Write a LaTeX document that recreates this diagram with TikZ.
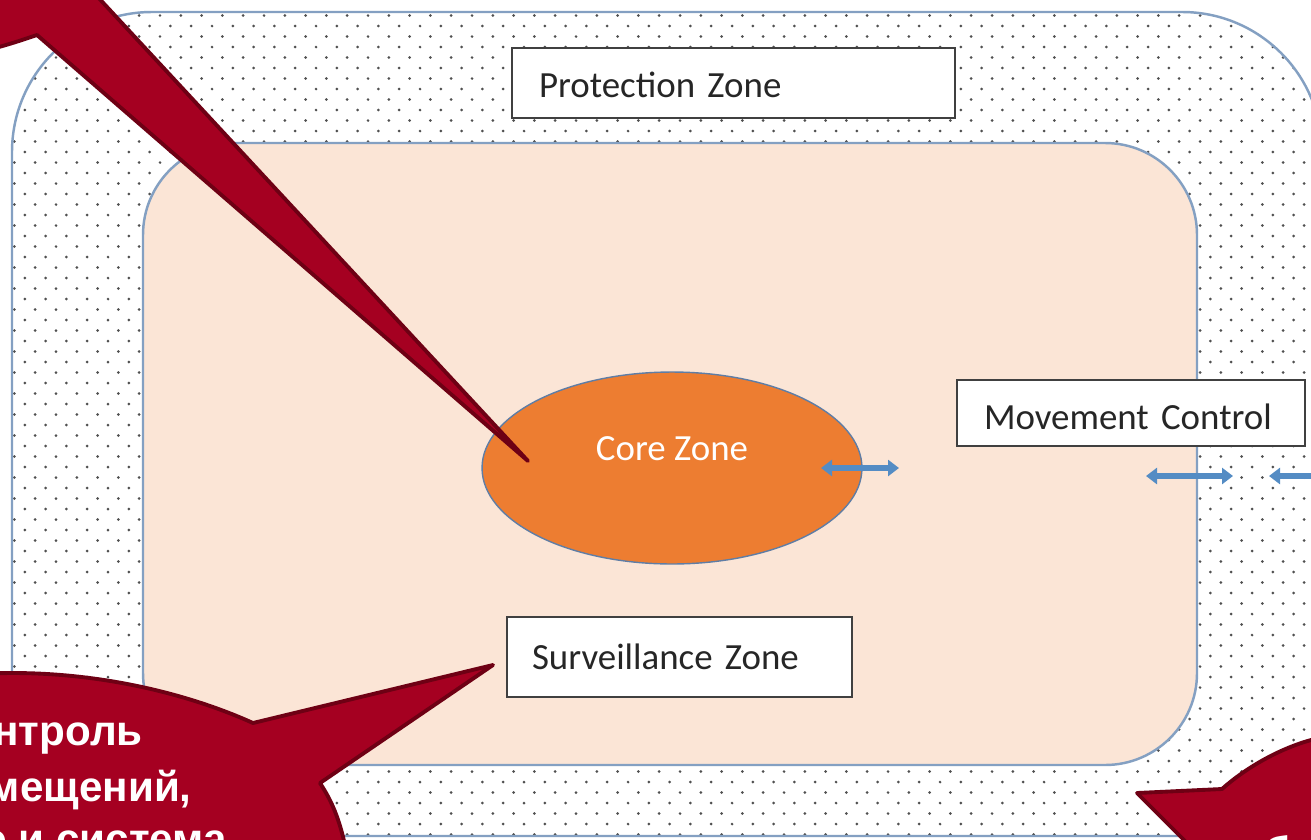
\documentclass[tikz,border=0pt]{standalone}
\usepackage{fontspec}
\setmainfont{Carlito}
\newfontfamily\calloutfont{Liberation Sans}
\usetikzlibrary{shapes.geometric,arrows.meta}
\definecolor{zoneline}{RGB}{132,160,194}
\definecolor{peach}{RGB}{251,229,214}
\definecolor{coreorange}{RGB}{237,125,49}
\definecolor{coreline}{RGB}{95,125,165}
\definecolor{arrowblue}{RGB}{84,140,196}
\definecolor{boxline}{RGB}{64,64,64}
\definecolor{boxtext}{RGB}{38,38,38}
\definecolor{calloutred}{RGB}{165,0,33}
\definecolor{calloutline}{RGB}{110,0,20}
\definecolor{dotgray}{RGB}{80,80,80}
\begin{document}
\begin{tikzpicture}[x=0.02cm,y=-0.02cm,
  zoneedge/.style={draw=zoneline,line width=1.4pt},
  zonebox/.style={draw=boxline,fill=white,line width=1.1pt,inner xsep=0.54cm,inner ysep=0pt,
    align=left,font=\fontsize{21}{25}\selectfont,text=boxtext,anchor=center},
  coreshape/.style={ellipse,fill=coreorange,draw=coreline,line width=0.8pt,
    minimum width=7.6cm,minimum height=3.84cm,inner sep=0pt},
  twoway/.style={{Triangle[length=0.22cm,width=0.32cm]}-{Triangle[length=0.22cm,width=0.32cm]},
    draw=arrowblue,line width=3.6pt},
  callout/.style={fill=calloutred,draw=calloutline,line width=2.2pt,line join=round},
  callouttext/.style={text=white,font=\calloutfont\bfseries\fontsize{24}{28}\selectfont,inner sep=0pt}
]
\useasboundingbox (0,0) rectangle (1311,839);
\fill[white] (0,0) rectangle (1311,839);

% dotted protection band
\begin{scope}
  \clip[rounded corners=2.8cm] (12,12) rectangle (1322,836);
  \foreach \j in {0,...,80} {
    \fill[dotgray] \foreach \i in {0,...,64} {
      ({mod(\j,2)*10.4+\i*20.8+4},{5+\j*10.5}) circle (0.85pt) };
  }
\end{scope}
\draw[zoneedge,rounded corners=2.8cm] (12,12) rectangle (1322,836);

% surveillance area
\draw[zoneedge,fill=peach,rounded corners=1.84cm] (143,143) rectangle (1197,765);

% labelled boxes
\node[zonebox,text width=7.78cm,text height=17pt,text depth=0pt,minimum height=1.4cm] (protect) at (733.5,83) {Protection Zone};
\node[zonebox,text width=5.88cm,text height=19pt,text depth=0pt,minimum height=1.32cm] (move) at (1131,413) {Movement Control};
\node[zonebox,inner xsep=0.5cm,text width=5.9cm,minimum height=1.6cm] (surv) at (679.5,657) {Surveillance Zone};

% core zone
\node[coreshape] (core) at (672,468) {};
\node[text=white,font=\fontsize{21}{25}\selectfont,inner sep=0pt] (corelabel) at (672,449) {Core Zone};

% movement arrows
\coordinate (a1s) at (821,468);
\coordinate (a1e) at (899,468);
\coordinate (a2s) at (1146,476);
\coordinate (a2e) at (1233,476);
\coordinate (a3s) at (1269,476);
\coordinate (a3e) at (1345,476);
\draw[twoway] (a1s) -- (a1e);
\draw[twoway] (a2s) -- (a2e);
\draw[twoway] (a3s) -- (a3e);

% callouts
\draw[callout] (-20,-20) -- (82,-20) -- (528,461) -- (37,35)
  .. controls (22,40) and (8,45) .. (-20,52) -- cycle;
\draw[callout] (-20,860) -- (-20,674) .. controls (80,668) and (180,690) .. (253,723)
  -- (493,665) -- (320,783) .. controls (333,803) and (341,822) .. (348,860) -- cycle;
\draw[callout] (1137,793) -- (1222,789) .. controls (1242,771) and (1275,750) .. (1311,740)
  -- (1345,732) -- (1345,860) -- (1204,860) -- cycle;

\node[callouttext,anchor=base east] (t1) at (143,745) {нтроль};
\node[callouttext,anchor=base east] (t2) at (192,801) {мещений,};
\node[callouttext,anchor=base east] (t3) at (227,853) {о и система};
\node[callouttext,anchor=base west] (t4) at (1264,866) {б};
\end{tikzpicture}
\end{document}
